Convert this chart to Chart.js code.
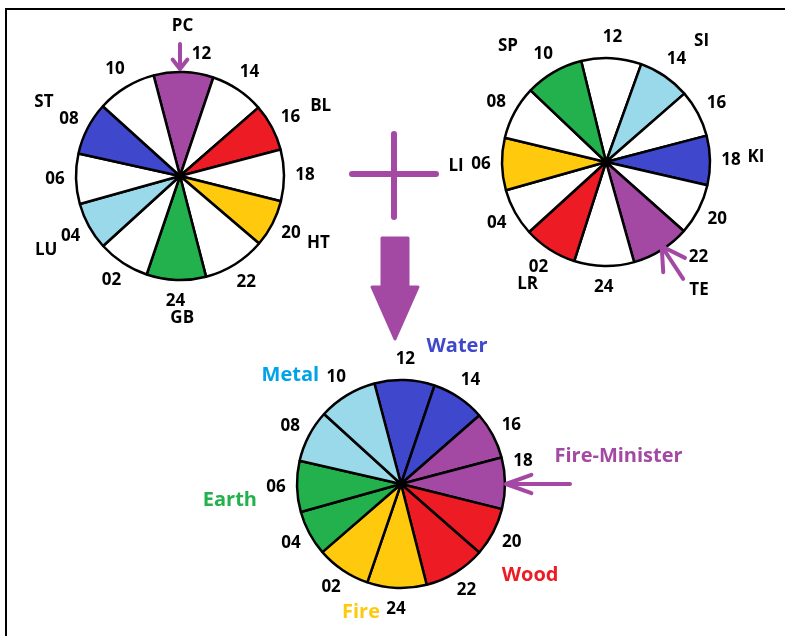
<!DOCTYPE html>
<html>
<head>
<meta charset="utf-8">
<script src="https://cdn.jsdelivr.net/npm/chart.js@4.4.1/dist/chart.umd.min.js"></script>
<style>
  html, body { margin: 0; padding: 0; background: #fff; }
  #page { position: relative; width: 785px; height: 636px; overflow: hidden; }
  #page canvas { position: absolute; left: 0; top: 0; }
</style>
</head>
<body>
<div id="page">
  <canvas id="frame" width="785" height="636"></canvas>
  <canvas id="pieLeft" width="785" height="636"></canvas>
  <canvas id="pieRight" width="785" height="636"></canvas>
  <canvas id="pieResult" width="785" height="636"></canvas>
</div>
<script>
// hours round the wheel, clockwise from the top
const hours = ['12', '14', '16', '18', '20', '22', '24', '02', '04', '06', '08', '10'];

// slice widths in degrees
const leftSizes = [33.4, 30.2, 26.3, 28.9, 26.4, 35.0, 33.2, 29.0, 26.7, 28.1, 29.6, 33.2];
const rightSizes = [33.6, 29.1, 26.4, 27.6, 28.7, 32.7, 33.5, 29.9, 26.5, 29.3, 30.0, 32.7];
const resultSizes = [33.6, 30.0, 26.4, 28.8, 27.2, 34.5, 33.2, 30.2, 25.3, 28.5, 29.4, 32.9];

// organ codes beside the coloured slices
const leftCodes = ['PC', '', 'BL', '', 'HT', '', 'GB', '', 'LU', '', 'ST', ''];
const rightCodes = ['', 'SI', '', 'KI', '', 'TE', '', 'LR', '', 'LI', '', 'SP'];

// elements, two slices each, starting at 12
const elements = ['Water', 'Fire-Minister', 'Wood', 'Fire', 'Earth', 'Metal'];

const purple = '#a349a4', red = '#ed1c24', yellow = '#ffc90e', green = '#22b14c',
      sky = '#99d9ea', blue = '#3f48cc', white = '#ffffff';
const leftColors = [purple, white, red, white, yellow, white, green, white, sky, white, blue, white];
const rightColors = [white, sky, white, blue, white, purple, white, red, white, yellow, white, green];
const resultColors = [blue, blue, purple, purple, red, red, yellow, yellow, green, green, sky, sky];
const elementColors = [blue, purple, red, yellow, green, '#00a2e8'];

const W = 785, H = 636, R = 104, BW = 2.5;
const FONT = '"Open Sans", "Liberation Sans", sans-serif';
const rad = d => d * Math.PI / 180;

function arrow(ctx, x1, y1, x2, y2, head, spread, width) {
  const a = Math.atan2(y1 - y2, x1 - x2);
  ctx.beginPath();
  ctx.moveTo(x1, y1);
  ctx.lineTo(x2, y2);
  ctx.moveTo(x2 + Math.cos(a - rad(spread)) * head, y2 + Math.sin(a - rad(spread)) * head);
  ctx.lineTo(x2, y2);
  ctx.lineTo(x2 + Math.cos(a + rad(spread)) * head, y2 + Math.sin(a + rad(spread)) * head);
  ctx.lineWidth = width;
  ctx.lineCap = 'round';
  ctx.lineJoin = 'round';
  ctx.stroke();
}

function labelPlugin(o) {
  return {
    id: 'wheelLabels',
    afterDatasetsDraw(chart) {
      const ctx = chart.ctx;
      const arcs = chart.getDatasetMeta(0).data;
      const place = (arc, ang, dist) => [arc.x + Math.cos(ang) * dist, arc.y + Math.sin(ang) * dist];
      ctx.save();
      ctx.textAlign = 'center';
      ctx.textBaseline = 'middle';
      ctx.fillStyle = '#000';
      ctx.font = 'bold 17px ' + FONT;
      arcs.forEach((arc, i) => {
        const mid = (arc.startAngle + arc.endAngle) / 2;
        const h = (o.hourNudge && o.hourNudge[i]) || [0, 125];
        let [x, y] = place(arc, mid + rad(h[0]), h[1]);
        ctx.fillText(hours[i], x, y);
        if (o.codes && o.codes[i]) {
          const c = o.codeNudge[i] || [0, 152];
          [x, y] = place(arc, mid + rad(c[0]), c[1]);
          ctx.fillText(o.codes[i], x, y);
        }
      });
      // pointer arrow onto one slice
      const p = o.pointer;
      const arc = arcs[p.slice];
      const ang = (arc.startAngle + arc.endAngle) / 2 + rad(p.turn);
      const [tx, ty] = place(arc, ang, p.tail);
      const [hx, hy] = place(arc, ang, p.tip);
      ctx.strokeStyle = purple;
      arrow(ctx, tx, ty, hx, hy, p.head, p.spread, 4);
      // element names for the combined wheel
      if (o.elementPos) {
        ctx.font = 'bold 20px ' + FONT;
        elements.forEach((name, k) => {
          const e = o.elementPos[k];
          const [ex, ey] = place(arcs[2 * k], arcs[2 * k].endAngle + rad(e[0]), e[1]);
          ctx.textAlign = e[2];
          ctx.fillStyle = elementColors[k];
          ctx.fillText(name, ex, ey);
        });
      }
      ctx.restore();
    }
  };
}

function wheel(id, o) {
  const half = R + BW / 2;
  return new Chart(document.getElementById(id), {
    type: 'pie',
    data: {
      labels: hours,
      datasets: [{
        data: o.sizes,
        backgroundColor: o.colors,
        borderColor: '#000',
        borderWidth: BW
      }]
    },
    options: {
      responsive: false,
      animation: false,
      events: [],
      rotation: o.rotation,
      layout: {
        padding: { left: o.cx - half, top: o.cy - half, right: W - o.cx - half, bottom: H - o.cy - half }
      },
      plugins: {
        legend: { display: false },
        tooltip: { enabled: false }
      }
    },
    plugins: [labelPlugin(o)]
  });
}

wheel('pieLeft', {
  sizes: leftSizes, colors: leftColors, codes: leftCodes,
  cx: 180, cy: 176, rotation: -14.7,
  hourNudge: { 0: [8, 124] },
  codeNudge: { 0: [-1, 150], 2: [1.6, 157], 4: [-1.3, 154], 6: [-3, 142], 8: [0, 153], 10: [1.3, 155] },
  pointer: { slice: 0, turn: -2, tail: 132, tip: 107, head: 12, spread: 38 }
});

wheel('pieRight', {
  sizes: rightSizes, colors: rightColors, codes: rightCodes,
  cx: 606, cy: 162, rotation: -13.8,
  hourNudge: { 5: [-12, 133] },
  codeNudge: { 1: [4, 154], 3: [-1, 150], 5: [-4, 158], 7: [0, 145], 9: [-0.5, 150], 11: [-10, 152] },
  pointer: { slice: 5, turn: -1.4, tail: 140, tip: 101, head: 26, spread: 30 }
});

wheel('pieResult', {
  sizes: resultSizes, colors: resultColors,
  cx: 401, cy: 484, rotation: -14.8,
  hourNudge: { 3: [-10, 124] },
  pointer: { slice: 3, turn: 0.4, tail: 169, tip: 105, head: 27, spread: 20 },
  elementPos: [[-8.3, 140, 'left'], [4.5, 156, 'left'], [1, 136, 'left'],
               [-9.6, 130, 'right'], [9, 145, 'right'], [10.7, 136, 'right']]
});

// frame, plus sign and the big arrow
(function () {
  const ctx = document.getElementById('frame').getContext('2d');
  ctx.strokeStyle = '#000';
  ctx.lineWidth = 2;
  ctx.beginPath();
  ctx.moveTo(6, H);
  ctx.lineTo(6, 9);
  ctx.lineTo(W, 9);
  ctx.stroke();

  ctx.strokeStyle = purple;
  ctx.lineCap = 'round';
  ctx.lineWidth = 6;
  ctx.beginPath();
  ctx.moveTo(352, 174); ctx.lineTo(436, 174);
  ctx.moveTo(394, 134); ctx.lineTo(394, 217);
  ctx.stroke();

  ctx.fillStyle = purple;
  ctx.lineWidth = 3;
  ctx.lineJoin = 'round';
  ctx.beginPath();
  ctx.moveTo(382, 238); ctx.lineTo(408, 238); ctx.lineTo(408, 287);
  ctx.lineTo(418, 287); ctx.lineTo(395, 339); ctx.lineTo(372, 287);
  ctx.lineTo(382, 287); ctx.closePath();
  ctx.fill();
  ctx.stroke();
})();
</script>
</body>
</html>
